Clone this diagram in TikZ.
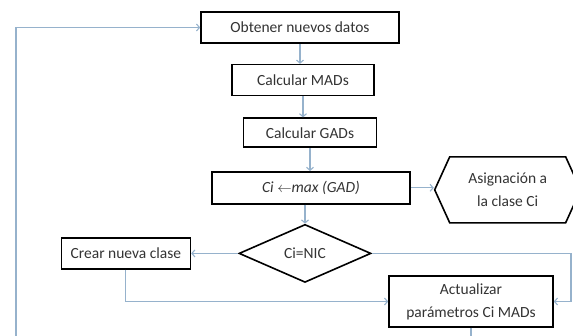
\documentclass[tikz,border=0pt]{standalone}
\usepackage{fontspec}
\setmainfont{Carlito}
\usetikzlibrary{arrows.meta, positioning, shapes.geometric, shapes.symbols}

\begin{document}
\begin{tikzpicture}[
		x=1pt, y=-1pt,
		>={Straight Barb[length=3pt,width=7pt]},
		font=\fontsize{15.5}{23}\selectfont,
		box/.style={rectangle, draw=black, line width=1.6pt, align=center, inner sep=2pt, minimum height=31pt, text=black!80},
		decision/.style={diamond, draw=black, line width=1.6pt, aspect=2.3, inner sep=1pt, minimum width=132pt, minimum height=58pt, text=black!80},
		result/.style={signal, signal to=west and east, signal pointer angle=131, draw=black, line width=1.6pt, align=center, minimum width=146pt, minimum height=66pt, text=black!80},
		flow/.style={->, draw={rgb,255:red,150;green,178;blue,204}, line width=1.1pt}
		]
		
		\useasboundingbox (0,0) rectangle (573,335);
		\clip (0,0) rectangle (573,335);
		
		% Main column
		\node[box, minimum width=198pt] (obtener) at (300,27.5) {Obtener nuevos datos};
		\node[box, minimum width=142pt, below=20pt of obtener, xshift=3pt] (mads) {Calcular MADs};
		\node[box, minimum width=133pt, minimum height=29pt, below=21pt of mads, xshift=7pt] (gads) {Calcular GADs};
		\node[box, minimum width=198pt, minimum height=32pt, below=23pt of gads, xshift=1pt] (maxgad) {\textit{Ci} $\leftarrow$\textit{max (GAD)}};
		\node[decision, below=19pt of maxgad, xshift=-6pt] (nic) {Ci=NIC};
		
		% Side nodes
		\node[result, right=23pt of maxgad, yshift=-2pt] (asignar) {Asignación a\\la clase Ci};
		\node[box, minimum width=129pt, left=47pt of nic] (crear) {Crear nueva clase};
		\node[box, minimum width=164pt, minimum height=51pt] (actualizar) at (471,301.5) {Actualizar\\parámetros Ci MADs};
		
		% Corners of the loops
		\coordinate (right) at (571,0);
		\coordinate (left) at (16,0);
		\coordinate (bottom) at (0,345);
		
		% Arrows
		\draw[flow] (obtener.south) -- (obtener.south |- mads.north);
		\draw[flow] (mads.south) -- (mads.south |- gads.north);
		\draw[flow] (gads.south) -- (gads.south |- maxgad.north);
		\draw[flow] (nic.north |- maxgad.south) -- (nic.north);
		\draw[flow] (maxgad.east) -- (maxgad.east -| asignar.west);
		\draw[flow] (nic.west) -- (crear.east);
		\draw[flow] (crear.south) |- (actualizar.west);
		\draw[flow] (nic.east) -- (nic.east -| right) |- (actualizar.east);
		
		% Back to the start
		\draw[flow] (actualizar.south) |- (left |- bottom) |- (obtener.west);
		
	\end{tikzpicture}
\end{document}
